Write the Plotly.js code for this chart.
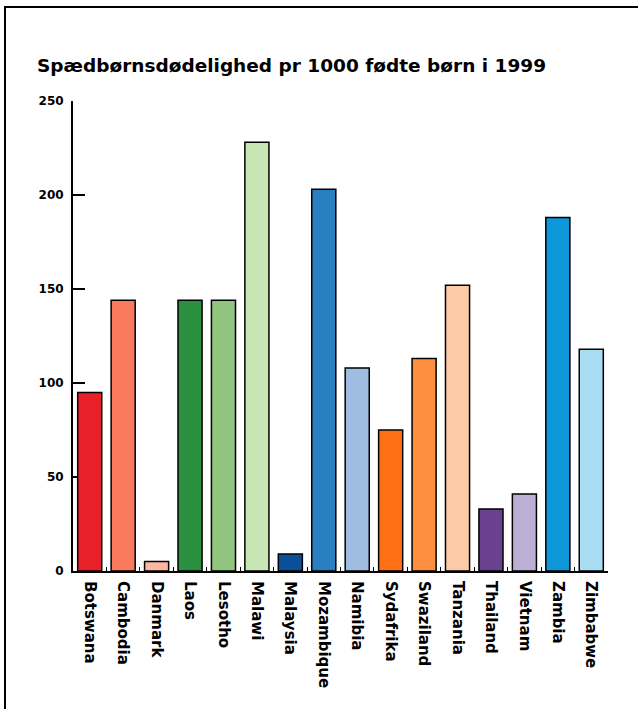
<!DOCTYPE html>
<html>
<head>
<meta charset="utf-8">
<script src="https://cdn.plot.ly/plotly-3.0.1.min.js"></script>
<style>
  html, body { margin: 0; padding: 0; background: #fff; }
  #wrap { position: relative; width: 638px; height: 709px; }
  #chart { width: 638px; height: 709px; }
  #frame { position: absolute; left: 4px; top: 6px; right: 0; bottom: 0;
           border-top: 2px solid #000; border-left: 2px solid #000; pointer-events: none; }
</style>
</head>
<body>
<div id="wrap">
  <div id="chart"></div>
  <div id="frame"></div>
</div>
<script>
const titleText = "Spædbørnsdødelighed pr 1000 fødte børn i 1999";
const countries = ["Botswana","Cambodia","Danmark","Laos","Lesotho","Malawi","Malaysia","Mozambique",
                   "Namibia","Sydafrika","Swaziland","Tanzania","Thailand","Vietnam","Zambia","Zimbabwe"];
const deaths = [95, 144, 5, 144, 144, 228, 9, 203, 108, 75, 113, 152, 33, 41, 188, 118];
const barColors = ["#e8202a","#fa7a5e","#fdb6a0","#2a9040","#90c580","#c7e6b4","#0a4f9a","#2a7fc0",
                   "#9ebde0","#ff7014","#fd9040","#fdcaa8","#6a4190","#bcaed4","#0d96d8","#a8dcf2"];
const yTicks = [0, 50, 100, 150, 200, 250];

const trace = {
  type: "bar",
  x: countries,
  y: deaths,
  marker: { color: barColors, line: { color: "#000", width: 1.5 } },
  hoverinfo: "x+y"
};

const layout = {
  width: 638, height: 709,
  margin: { l: 73, r: 30, t: 101, b: 138 },
  paper_bgcolor: "#fff", plot_bgcolor: "#fff",
  showlegend: false,
  bargap: 0.28,
  font: { family: "DejaVu Sans", color: "#000" },
  title: {
    text: "<b>" + titleText + "</b>",
    font: { family: "DejaVu Sans", size: 18.5, color: "#000" },
    x: 37 / 638, xanchor: "left", xref: "container",
    y: 1 - 66 / 709, yanchor: "middle", yref: "container"
  },
  xaxis: {
    type: "category",
    range: [-0.5, 15.5],
    showline: true, linecolor: "#000", linewidth: 2,
    ticks: "inside", tickson: "boundaries", ticklen: 4, tickcolor: "#000", tickwidth: 1,
    tickangle: 90,
    tickfont: { family: "DejaVu Sans", size: 15, color: "#000", weight: "bold" },
    ticklabelstandoff: 5,
    showgrid: false, zeroline: false, layer: "below traces",
    fixedrange: true
  },
  yaxis: {
    range: [0, 250],
    tickvals: yTicks,
    ticktext: yTicks.map(String),
    showline: true, linecolor: "#000", linewidth: 2,
    ticks: "inside", ticklen: 12, tickcolor: "#000", tickwidth: 1.5,
    tickfont: { family: "DejaVu Sans", size: 12, color: "#000", weight: "bold" },
    ticklabelstandoff: 5,
    showgrid: false, zeroline: false, layer: "below traces",
    fixedrange: true
  }
};

Plotly.newPlot("chart", [trace], layout, { displayModeBar: false, staticPlot: true });
</script>
</body>
</html>
